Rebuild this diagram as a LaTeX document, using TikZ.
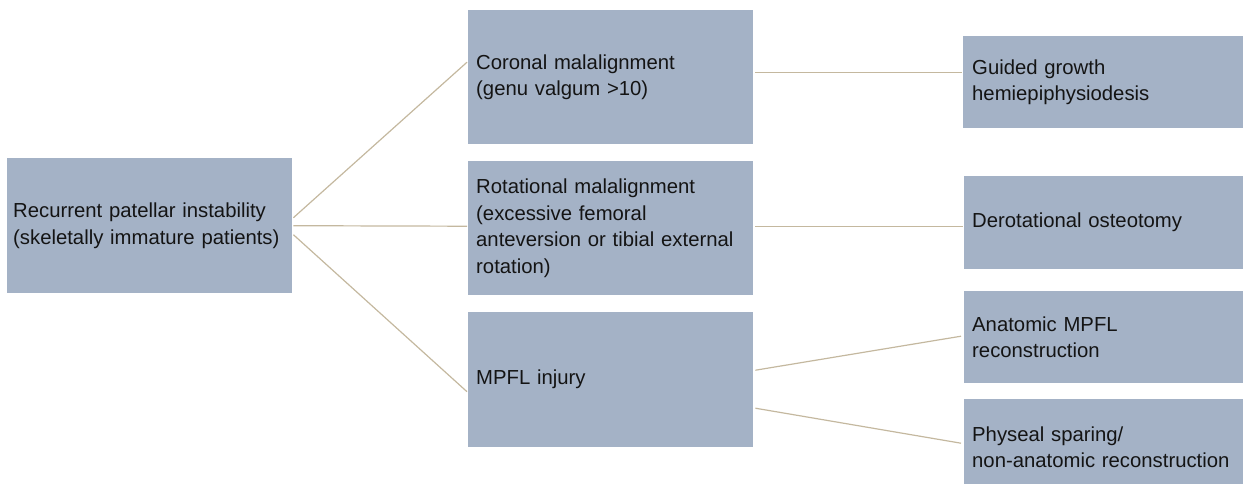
\documentclass[tikz,border=0pt]{standalone}
\usepackage{fontspec}
\setmainfont{Liberation Sans}
\usetikzlibrary{calc}
\definecolor{boxblue}{HTML}{A4B2C6}
\definecolor{linebeige}{HTML}{C4B89F}
\begin{document}
\begin{tikzpicture}[x=1pt,y=-1pt,
  box/.style={fill=boxblue, draw=none, inner xsep=8pt, inner ysep=0pt, align=left,
    anchor=north west, font=\fontsize{20.3}{26.7}\selectfont, text=black!92},
  conn/.style={draw=linebeige, line width=1.2pt}]
\useasboundingbox (0,0) rectangle (1243,483);
\clip (0,0) rectangle (1243,483);
% left
\node[box, inner xsep=6pt, text width=273pt, minimum height=135pt] (L) at (7,158)
  {Recurrent patellar instability\\(skeletally immature patients)};
% middle
\node[box, text width=269pt, minimum height=134pt] (M1) at (468,10)
  {Coronal malalignment\\(genu valgum >10)};
\node[box, text width=269pt, minimum height=134pt] (M2) at (468,161)
  {Rotational malalignment\\(excessive femoral\\anteversion or tibial external\\rotation)};
\node[box, text width=269pt, minimum height=135pt] (M3) at (468,312)
  {MPFL injury};
% right
\node[box, inner xsep=9pt, text width=262pt, minimum height=92pt] (R1) at (963,36)
  {Guided growth\\hemiepiphysiodesis};
\node[box, text width=263pt, minimum height=93pt] (R2) at (964,176)
  {Derotational osteotomy};
\node[box, text width=263pt, minimum height=92pt] (R3) at (964,291)
  {Anatomic MPFL\\reconstruction};
\node[box, text width=263pt, minimum height=96pt] (R4) at (964,399)
  {Physeal sparing/\\non-anatomic reconstruction};
% connectors
\draw[conn] ($(L.east)+(1,-8)$) -- ($(M1.west)+(-1,-15)$);
\draw[conn] ($(L.east)+(1,0)$) -- ($(M2.west)+(-1,-2)$);
\draw[conn] ($(L.east)+(1,9)$) -- ($(M3.west)+(-1,12)$);
\draw[conn] ($(M1.east)+(2,-5)$) -- ($(R1.west)+(-1,-10)$);
\draw[conn] ($(M2.east)+(2,-2)$) -- ($(R2.west)+(-1,3.5)$);
\draw[conn] ($(M3.east)+(2,-9.5)$) -- ($(R3.west)+(-3,-1)$);
\draw[conn] ($(M3.east)+(2,28.5)$) -- ($(R4.west)+(-3,-4)$);
\end{tikzpicture}
\end{document}
